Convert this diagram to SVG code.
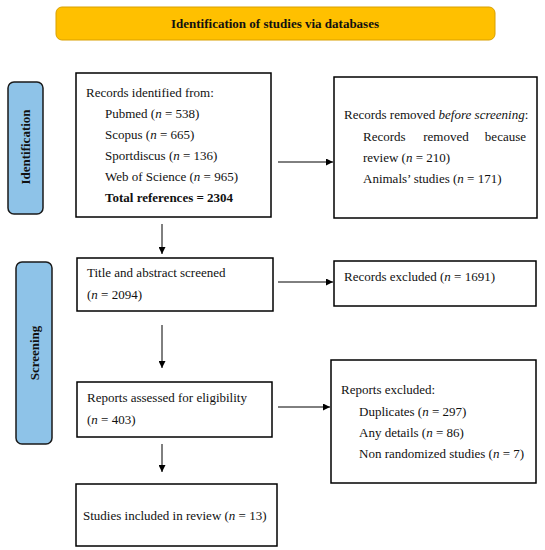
<svg xmlns="http://www.w3.org/2000/svg" width="545" height="550" viewBox="0 0 545 550">
<defs>
<marker id="ah" viewBox="0 0 10 10" refX="10" refY="5" markerWidth="7" markerHeight="7" markerUnits="userSpaceOnUse" orient="auto">
<path d="M0,0 L10,5 L0,10 Z" fill="#000"/>
</marker>
</defs>
<style>
.box{fill:#fff;stroke:#000;stroke-width:1.5}
.side{fill:#8EC3E8;stroke:#1a1a1a;stroke-width:1.5}
.t{font-family:"Liberation Serif","DejaVu Serif",serif;font-size:13px;fill:#111}
.b{font-weight:bold}
.conn{stroke:#000;stroke-width:1;fill:none;marker-end:url(#ah)}
</style>
<rect width="545" height="550" fill="#fff"/>
<g id="banner">
<rect x="56" y="7" width="439" height="33" rx="6" fill="#FFC000" stroke="#D9A000" stroke-width="1"/>
<text class="t b" x="275" y="27.5" text-anchor="middle" font-size="10.8">Identification of studies via databases</text>
</g>
<g id="label-identification">
<rect class="side" x="8" y="82" width="35" height="132" rx="6"/>
<text class="t b" transform="translate(30,147) rotate(-90)" text-anchor="middle">Identification</text>
</g>
<g id="label-screening">
<rect class="side" x="16" y="262" width="36" height="182" rx="6"/>
<text class="t b" transform="translate(38.5,353) rotate(-90)" text-anchor="middle">Screening</text>
</g>
<g id="records-identified">
<rect class="box" x="76" y="73" width="195" height="144"/>
<text class="t" x="86" y="97">Records identified from:</text>
<text class="t" x="105" y="118">Pubmed (<tspan font-style="italic">n</tspan> = 538)</text>
<text class="t" x="105" y="139">Scopus (<tspan font-style="italic">n</tspan> = 665)</text>
<text class="t" x="105" y="160">Sportdiscus (<tspan font-style="italic">n</tspan> = 136)</text>
<text class="t" x="105" y="181">Web of Science (<tspan font-style="italic">n</tspan> = 965)</text>
<text class="t b" x="105" y="202">Total references = 2304</text>
</g>
<g id="records-removed">
<rect class="box" x="334" y="77" width="203" height="141"/>
<text class="t" x="344" y="119">Records removed <tspan font-style="italic">before screening</tspan>:</text>
<text class="t" x="363" y="141">Records</text>
<text class="t" x="446" y="141" text-anchor="middle">removed</text>
<text class="t" x="526" y="141" text-anchor="end">because</text>
<text class="t" x="363" y="162">review (<tspan font-style="italic">n</tspan> = 210)</text>
<text class="t" x="363" y="183">Animals’ studies (<tspan font-style="italic">n</tspan> = 171)</text>
</g>
<g id="title-abstract">
<rect class="box" x="77" y="258" width="196" height="53"/>
<text class="t" x="87" y="277">Title and abstract screened</text>
<text class="t" x="87" y="299">(<tspan font-style="italic">n</tspan> = 2094)</text>
</g>
<g id="records-excluded">
<rect class="box" x="334" y="261" width="202" height="45"/>
<text class="t" x="344" y="281">Records excluded (<tspan font-style="italic">n</tspan> = 1691)</text>
</g>
<g id="reports-assessed">
<rect class="box" x="77" y="382" width="195" height="55"/>
<text class="t" x="87" y="402">Reports assessed for eligibility</text>
<text class="t" x="87" y="424">(<tspan font-style="italic">n</tspan> = 403)</text>
</g>
<g id="reports-excluded">
<rect class="box" x="331" y="360" width="205" height="123"/>
<text class="t" x="341" y="394">Reports excluded:</text>
<text class="t" x="359" y="416">Duplicates (<tspan font-style="italic">n</tspan> = 297)</text>
<text class="t" x="359" y="437">Any details (<tspan font-style="italic">n</tspan> = 86)</text>
<text class="t" x="359" y="458">Non randomized studies (<tspan font-style="italic">n</tspan> = 7)</text>
</g>
<g id="studies-included">
<rect class="box" x="76" y="484" width="201" height="62"/>
<text class="t" x="83" y="520">Studies included in review (<tspan font-style="italic">n</tspan> = 13)</text>
</g>
<g id="connectors">
<line class="conn" x1="278" y1="162" x2="333" y2="162"/>
<line class="conn" x1="162" y1="224" x2="162" y2="254"/>
<line class="conn" x1="278" y1="282" x2="333" y2="282"/>
<line class="conn" x1="162" y1="325" x2="162" y2="368"/>
<line class="conn" x1="278" y1="407" x2="330" y2="407"/>
<line class="conn" x1="162" y1="444" x2="162" y2="472"/>
</g>
</svg>
